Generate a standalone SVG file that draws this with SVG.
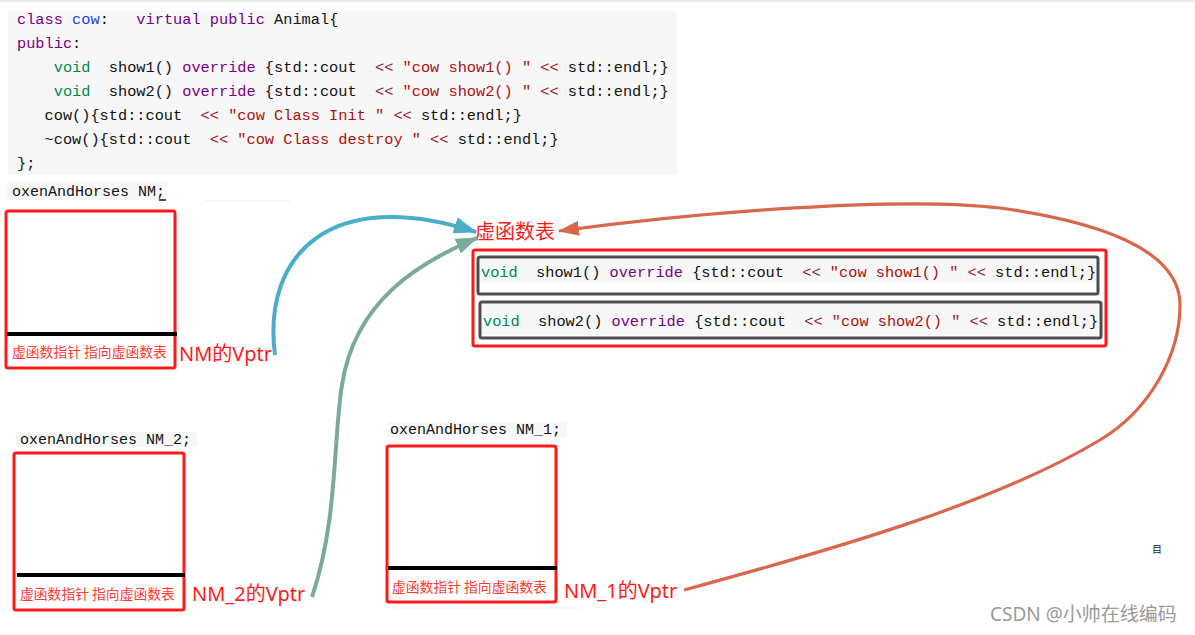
<svg xmlns="http://www.w3.org/2000/svg" width="1195" height="635" viewBox="0 0 1195 635" xml:space="preserve">
<style>
.code{font-family:"Liberation Mono","DejaVu Sans Mono",monospace;font-size:15.3px;fill:#111;white-space:pre}
.kw{fill:#770088}.def{fill:#1f3fe0}.ty{fill:#008855}.op{fill:#981a1a}.str{fill:#aa1111}
.redbox{fill:none;stroke:#ff1a1a;stroke-width:3}
.ptr{stroke:#000;stroke-width:4;stroke-linecap:square}
.lbl{font-family:"Noto Sans CJK SC",sans-serif;font-size:13.8px;fill:#ff3b30;white-space:pre}
.vptr{font-family:"Noto Sans","Noto Sans CJK SC",sans-serif;font-size:20px;fill:#ff1a1a}
.slot{fill:#fff;stroke:#4d4d4d;stroke-width:3}
.bg{fill:#f7f7f7}
.conn{fill:none;stroke-width:4;stroke-linecap:butt}
</style>
<defs>
<marker id="ahBlue" markerUnits="userSpaceOnUse" viewBox="0 0 23 17" markerWidth="23" markerHeight="17" refX="22" refY="8.5" orient="auto"><path d="M0,0 L23,8.5 L0,17 z" fill="#4badc7"/></marker>
<marker id="ahGreen" markerUnits="userSpaceOnUse" viewBox="0 0 22 16" markerWidth="22" markerHeight="16" refX="21" refY="8" orient="auto"><path d="M0,0 L22,8 L0,16 z" fill="#7aab98"/></marker>
<marker id="ahOrange" markerUnits="userSpaceOnUse" viewBox="0 0 21 15" markerWidth="21" markerHeight="15" refX="20" refY="7.5" orient="auto"><path d="M0,0 L21,7.5 L0,15 z" fill="#d9674b"/></marker>
</defs>
<rect x="0" y="0" width="1195" height="635" fill="#fff"/>
<rect x="0" y="0" width="1195" height="2" fill="#ececec"/>

<g id="code-class-cow">
<rect x="8" y="11" width="669" height="164" class="bg"/>
<text class="code" x="17" y="24" xml:space="preserve"><tspan class="kw">class</tspan> <tspan class="def">cow</tspan>:   <tspan class="kw">virtual</tspan> <tspan class="kw">public</tspan> Animal{</text>
<text class="code" x="17" y="48" xml:space="preserve"><tspan class="kw">public</tspan>:</text>
<text class="code" x="17" y="72" xml:space="preserve">    <tspan class="ty">void</tspan>  show1() <tspan class="kw">override</tspan> {std::cout  <tspan class="op">&lt;&lt;</tspan> <tspan class="str">"cow show1() "</tspan> <tspan class="op">&lt;&lt;</tspan> std::endl;}</text>
<text class="code" x="17" y="96" xml:space="preserve">    <tspan class="ty">void</tspan>  show2() <tspan class="kw">override</tspan> {std::cout  <tspan class="op">&lt;&lt;</tspan> <tspan class="str">"cow show2() "</tspan> <tspan class="op">&lt;&lt;</tspan> std::endl;}</text>
<text class="code" x="17" y="120" xml:space="preserve">   cow(){std::cout  <tspan class="op">&lt;&lt;</tspan> <tspan class="str">"cow Class Init "</tspan> <tspan class="op">&lt;&lt;</tspan> std::endl;}</text>
<text class="code" x="17" y="144" xml:space="preserve">   ~cow(){std::cout  <tspan class="op">&lt;&lt;</tspan> <tspan class="str">"cow Class destroy "</tspan> <tspan class="op">&lt;&lt;</tspan> std::endl;}</text>
<text class="code" x="17" y="168">};</text>
</g>

<g id="obj-NM">
<rect x="7" y="181" width="160" height="19" class="bg"/>
<line x1="205" y1="201" x2="290" y2="201" stroke="#eeeeee" stroke-width="1"/>
<text class="code" x="12" y="196" style="font-size:15px">oxenAndHorses NM;</text>
<line x1="159" y1="200" x2="166" y2="200" stroke="#111" stroke-width="1.5"/>
<rect x="6" y="211" width="169" height="157" rx="2" class="redbox"/>
<line x1="9" y1="334" x2="175" y2="334" class="ptr"/>
<text class="lbl" x="12" y="357">虚函数指针 指向虚函数表</text>
<text class="vptr" x="179" y="361">NM的Vptr</text>
</g>

<g id="obj-NM_2">
<rect x="16" y="432" width="181" height="15" class="bg"/>
<text class="code" x="20" y="444" style="font-size:15px">oxenAndHorses NM_2;</text>
<rect x="14" y="453" width="170" height="157" rx="2" class="redbox"/>
<line x1="19" y1="575" x2="183" y2="575" class="ptr"/>
<text class="lbl" x="20" y="599">虚函数指针 指向虚函数表</text>
<text class="vptr" x="192" y="601">NM_2的Vptr</text>
</g>

<g id="obj-NM_1">
<rect x="388" y="422" width="179" height="15" class="bg"/>
<text class="code" x="390" y="434" style="font-size:15px">oxenAndHorses NM_1;</text>
<rect x="387" y="446" width="169" height="156" rx="2" class="redbox"/>
<line x1="390" y1="568" x2="555" y2="568" class="ptr"/>
<text class="lbl" x="392" y="592">虚函数指针 指向虚函数表</text>
<text class="vptr" x="564" y="598">NM_1的Vptr</text>
<line x1="395" y1="608" x2="580" y2="608" stroke="#f0f0f0" stroke-width="1"/>
</g>

<g id="vtable">
<text class="vptr" x="475" y="239">虚函数表</text>
<rect x="473" y="250" width="633" height="96" rx="2" class="redbox"/>
<rect x="478" y="257" width="620" height="37" rx="2" class="slot"/>
<rect x="480" y="259" width="616" height="24" class="bg"/>
<text class="code" x="481" y="277" xml:space="preserve"><tspan class="ty">void</tspan>  show1() <tspan class="kw">override</tspan> {std::cout  <tspan class="op">&lt;&lt;</tspan> <tspan class="str">"cow show1() "</tspan> <tspan class="op">&lt;&lt;</tspan> std::endl;}</text>
<rect x="480" y="302" width="621" height="36" rx="2" class="slot"/>
<rect x="482" y="304" width="617" height="31" class="bg"/>
<text class="code" x="483" y="326" xml:space="preserve"><tspan class="ty">void</tspan>  show2() <tspan class="kw">override</tspan> {std::cout  <tspan class="op">&lt;&lt;</tspan> <tspan class="str">"cow show2() "</tspan> <tspan class="op">&lt;&lt;</tspan> std::endl;}</text>
</g>

<g id="connectors">
<path class="conn" stroke="#4badc7" d="M275,355 C262,255 330,185 476,232" marker-end="url(#ahBlue)"/>
<path class="conn" stroke="#7aab98" d="M312,597 C338,520 333,440 342,385 C355,300 420,262 477,238" marker-end="url(#ahGreen)"/>
<path class="conn" stroke="#d9674b" style="stroke-width:3.2" d="M684,590 C850,545 1000,500 1100,440 C1150,410 1180,355 1180,305 C1180,250 1100,222 1000,208 C900,196 700,212 559,231" marker-end="url(#ahOrange)"/>
</g>

<text x="1152" y="553" style="font-family:'Noto Sans CJK SC',sans-serif;font-size:10px;fill:#222">目</text>
<text x="990" y="621" style="font-family:'Noto Sans','Noto Sans CJK SC',sans-serif;font-size:19px;fill:#9a9a9a">CSDN @小帅在线编码</text>
</svg>
